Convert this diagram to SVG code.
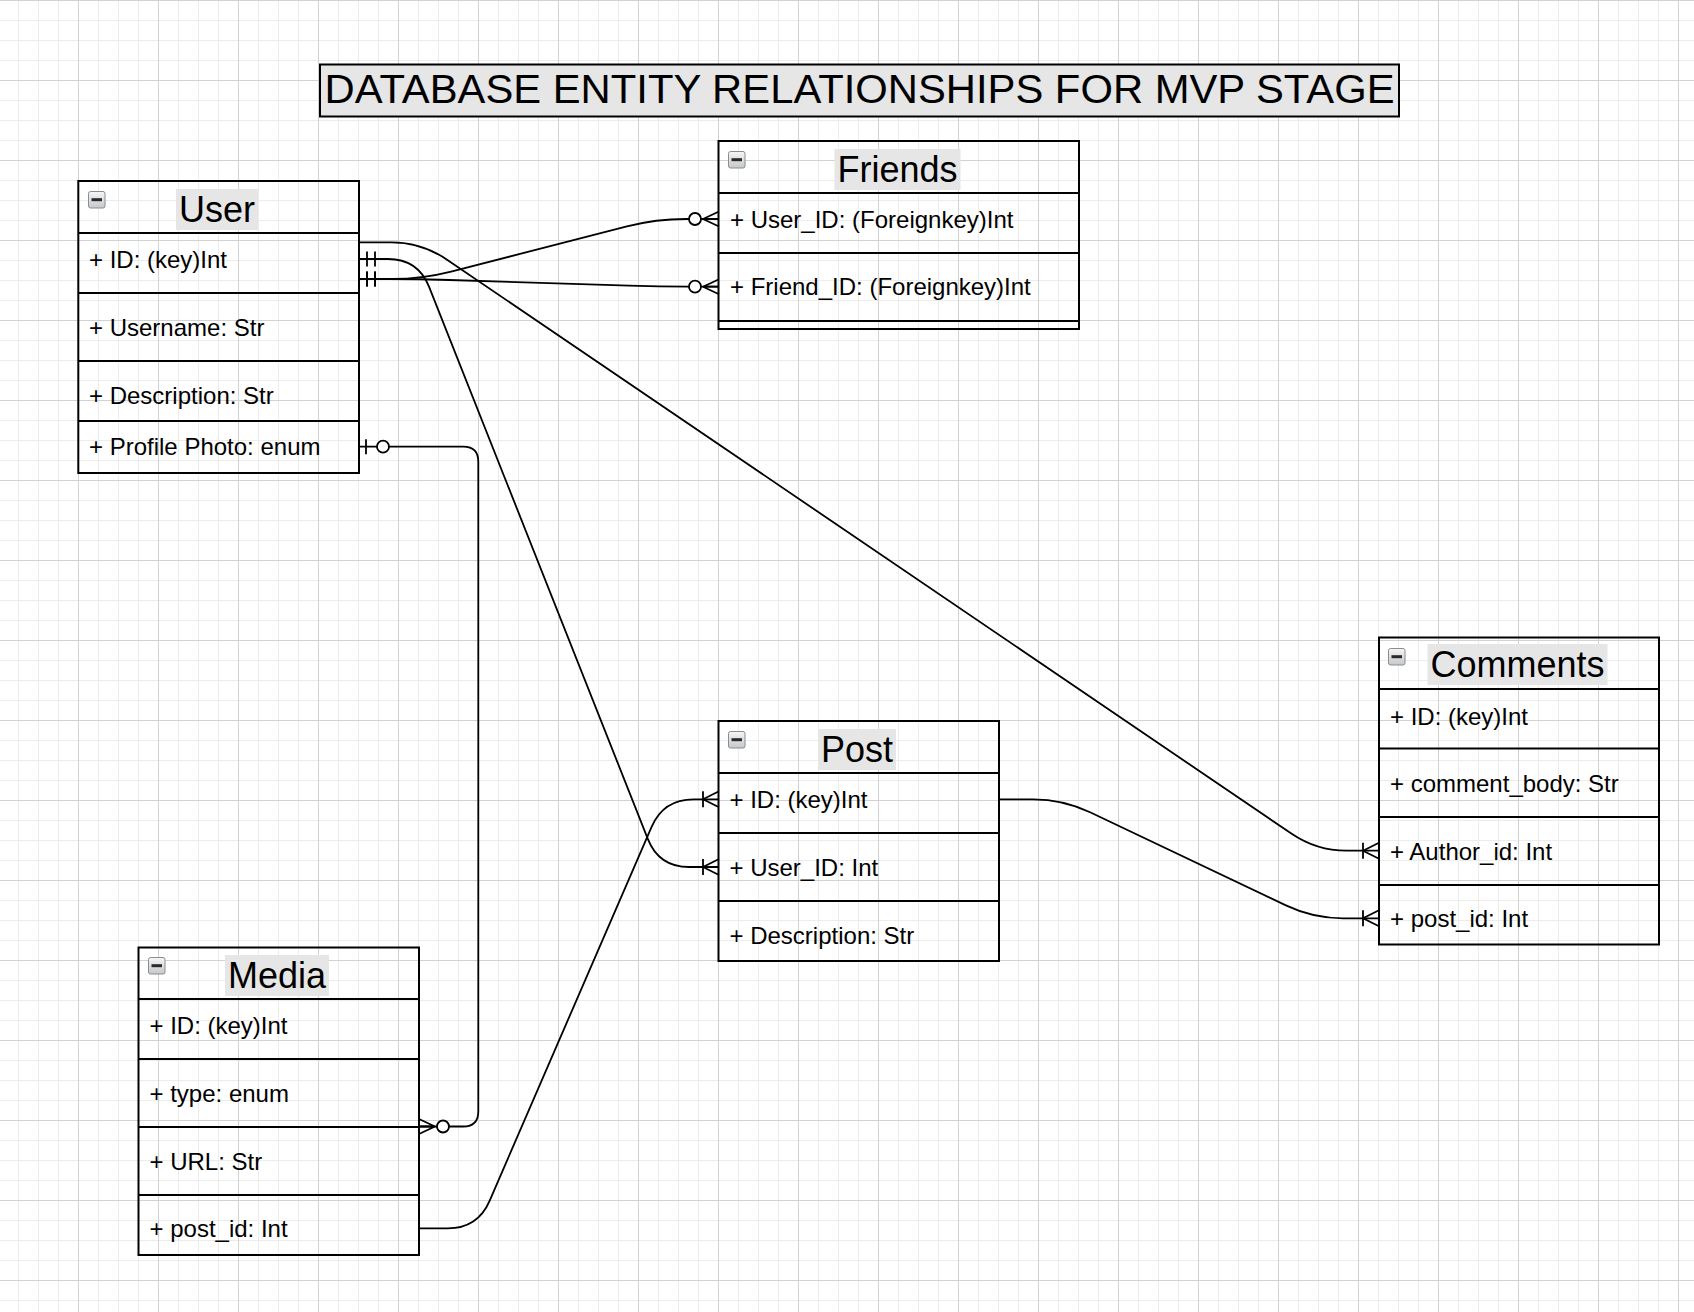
<svg xmlns="http://www.w3.org/2000/svg" xmlns:xlink="http://www.w3.org/1999/xlink" width="1694" height="1312" viewBox="0 0 1694 1312">
<defs>
<style>
.box{fill:none;stroke:#000;stroke-width:2}
.sep{stroke:#000;stroke-width:2}
.hbg{fill:#e6e6e6}
.hdr{font-family:"Liberation Sans",Arial,Helvetica,sans-serif;font-size:36px;text-anchor:middle;fill:#000}
.row{font-family:"Liberation Sans",Arial,Helvetica,sans-serif;font-size:24px;fill:#000}
.edge{fill:none;stroke:#000;stroke-width:1.8}
.mk{fill:none;stroke:#000;stroke-width:1.8}
.mc{fill:#fff;stroke:#000;stroke-width:1.8}
.gmin{stroke:#ececec;stroke-width:1}
.gmaj{stroke:#d2d2d2;stroke-width:1}
</style>
<pattern id="grid" patternUnits="userSpaceOnUse" x="78" y="0" width="80" height="80">
<path class="gmin" d="M20.5,0V80M40.5,0V80M60.5,0V80M0,20.5H80M0,40.5H80M0,60.5H80"/>
<path class="gmaj" d="M0.5,0V80M0,0.5H80"/>
</pattern>
<linearGradient id="mg" x1="0" y1="0" x2="0" y2="1">
<stop offset="0" stop-color="#f6f6f6"/>
<stop offset="1" stop-color="#c4c8cc"/>
</linearGradient>
<g id="minus">
<rect x="0.5" y="0.5" width="16.5" height="16.5" rx="2" fill="url(#mg)" stroke="#8c8c8c" stroke-width="1"/>
<rect x="3.5" y="7.2" width="10.5" height="3" fill="#2a2a2a"/>
</g>
<marker id="mMandOne" markerUnits="userSpaceOnUse" orient="auto-start-reverse" overflow="visible" viewBox="-40 -20 60 40" markerWidth="60" markerHeight="40" refX="0" refY="0">
<path class="mk" d="M-8,-7.5V7.5M-16,-7.5V7.5"/>
</marker>
<marker id="mZeroOne" markerUnits="userSpaceOnUse" orient="auto-start-reverse" overflow="visible" viewBox="-40 -20 60 40" markerWidth="60" markerHeight="40" refX="0" refY="0">
<path class="mk" d="M-7,-7.5V7.5"/>
<circle class="mc" cx="-24" cy="0" r="6"/>
</marker>
<marker id="mZeroMany" markerUnits="userSpaceOnUse" orient="auto-start-reverse" overflow="visible" viewBox="-40 -20 60 40" markerWidth="60" markerHeight="40" refX="0" refY="0">
<path class="mk" d="M-16,0L0,-7.5M-16,0L0,7.5M-16,0H0"/>
<circle class="mc" cx="-24" cy="0" r="6"/>
</marker>
<marker id="mOneMany" markerUnits="userSpaceOnUse" orient="auto-start-reverse" overflow="visible" viewBox="-40 -20 60 40" markerWidth="60" markerHeight="40" refX="0" refY="0">
<path class="mk" d="M-16,-8V8M-16,0L0,-8M-16,0L0,8"/>
</marker>
</defs>

<rect x="0" y="0" width="1694" height="1312" fill="#fff"/>
<rect x="0" y="0" width="1694" height="1312" fill="url(#grid)"/>

<g id="title">
<rect x="320" y="64.5" width="1079" height="52" fill="#e6e6e6" stroke="#000" stroke-width="2"/>
<text x="859.5" y="103" font-family="'Liberation Sans',Arial,Helvetica,sans-serif" font-size="41" text-anchor="middle" textLength="1070" lengthAdjust="spacingAndGlyphs">DATABASE ENTITY RELATIONSHIPS FOR MVP STAGE</text>
</g>

<g id="connectors">
<path id="e-user-comments" class="edge" d="M359,242.3 L391.5,242.3 Q421.5,242.3 446.3,259.2 L1291.7,833.8 Q1316.5,850.7 1346.5,850.7 L1379,850.7" marker-end="url(#mOneMany)"/>
<path id="e-user-post" class="edge" d="M359,259 L388,259 Q418,259 429.1,286.9 L647.9,839.1 Q659,867 689,867 L719,867" marker-start="url(#mMandOne)" marker-end="url(#mOneMany)"/>
<path id="e-user-friends-user" class="edge" d="M359,279 L392,279 Q422,279 451.1,271.6 L626.9,226.4 Q656,219 686,219 L719,219" marker-start="url(#mMandOne)" marker-end="url(#mZeroMany)"/>
<path id="e-user-friends-friend" class="edge" d="M359,279 L389,279 Q419,279 449,280 L629,285.7 Q659,286.7 689,286.7 L719,286.7" marker-start="url(#mMandOne)" marker-end="url(#mZeroMany)"/>
<path id="e-post-comments" class="edge" d="M999,799.3 L1033,799.3 Q1063,799.3 1090.1,812.2 L1285.9,905.4 Q1313,918.3 1343,918.3 L1379,918.3" marker-end="url(#mOneMany)"/>
<path id="e-media-post" class="edge" d="M419,1228.3 L447.7,1228.3 Q477.7,1228.3 489.6,1200.8 L651.6,826.8 Q663.5,799.3 693.5,799.3 L719,799.3" marker-end="url(#mOneMany)"/>
<path id="e-user-media" class="edge" d="M359,446.7 L463.3,446.7 Q478.3,446.7 478.3,461.7 L478.3,1111.5 Q478.3,1126.5 463.3,1126.5 L419,1126.5" marker-start="url(#mZeroOne)" marker-end="url(#mZeroMany)"/>
</g>

<g id="node-user">
<rect class="box" x="78.3" y="181" width="280.7" height="292"/>
<path class="sep" d="M78.3,233H359M78.3,293H359M78.3,361H359M78.3,421H359"/>
<use href="#minus" xlink:href="#minus" x="88" y="191"/>
<rect class="hbg" x="176" y="189" width="82" height="41"/>
<text class="hdr" x="217" y="222">User</text>
<text class="row" x="89" y="268">+ ID: (key)Int</text>
<text class="row" x="89" y="336">+ Username: Str</text>
<text class="row" x="89" y="404">+ Description: Str</text>
<text class="row" x="89" y="455">+ Profile Photo: enum</text>
</g>

<g id="node-friends">
<rect class="box" x="718.5" y="141" width="360.5" height="188"/>
<path class="sep" d="M718.5,193H1079M718.5,253H1079M718.5,321H1079"/>
<use href="#minus" xlink:href="#minus" x="728" y="151"/>
<rect class="hbg" x="834.5" y="149" width="126" height="41"/>
<text class="hdr" x="897.5" y="182">Friends</text>
<text class="row" x="730" y="227.5">+ User_ID: (Foreignkey)Int</text>
<text class="row" x="730" y="295">+ Friend_ID: (Foreignkey)Int</text>
</g>

<g id="node-post">
<rect class="box" x="718.5" y="721" width="280.5" height="240"/>
<path class="sep" d="M718.5,773H999M718.5,833H999M718.5,901H999"/>
<use href="#minus" xlink:href="#minus" x="728" y="731"/>
<rect class="hbg" x="818" y="729" width="78" height="41"/>
<text class="hdr" x="857" y="762">Post</text>
<text class="row" x="729.5" y="808">+ ID: (key)Int</text>
<text class="row" x="729.5" y="876">+ User_ID: Int</text>
<text class="row" x="729.5" y="943.5">+ Description: Str</text>
</g>

<g id="node-comments">
<rect class="box" x="1379" y="637.5" width="280" height="307"/>
<path class="sep" d="M1379,689H1659M1379,748.5H1659M1379,817H1659M1379,885H1659"/>
<use href="#minus" xlink:href="#minus" x="1388" y="648"/>
<rect class="hbg" x="1427.5" y="644" width="180" height="41"/>
<text class="hdr" x="1517.5" y="677">Comments</text>
<text class="row" x="1390" y="724.5">+ ID: (key)Int</text>
<text class="row" x="1390" y="792">+ comment_body: Str</text>
<text class="row" x="1390" y="859.5">+ Author_id: Int</text>
<text class="row" x="1390" y="927">+ post_id: Int</text>
</g>

<g id="node-media">
<rect class="box" x="138.5" y="947.5" width="280.5" height="307.5"/>
<path class="sep" d="M138.5,999H419M138.5,1059H419M138.5,1127H419M138.5,1195H419"/>
<use href="#minus" xlink:href="#minus" x="148" y="957"/>
<rect class="hbg" x="225" y="955" width="104" height="41"/>
<text class="hdr" x="277" y="988">Media</text>
<text class="row" x="149.5" y="1034">+ ID: (key)Int</text>
<text class="row" x="149.5" y="1102">+ type: enum</text>
<text class="row" x="149.5" y="1169.5">+ URL: Str</text>
<text class="row" x="149.5" y="1237">+ post_id: Int</text>
</g>
</svg>
